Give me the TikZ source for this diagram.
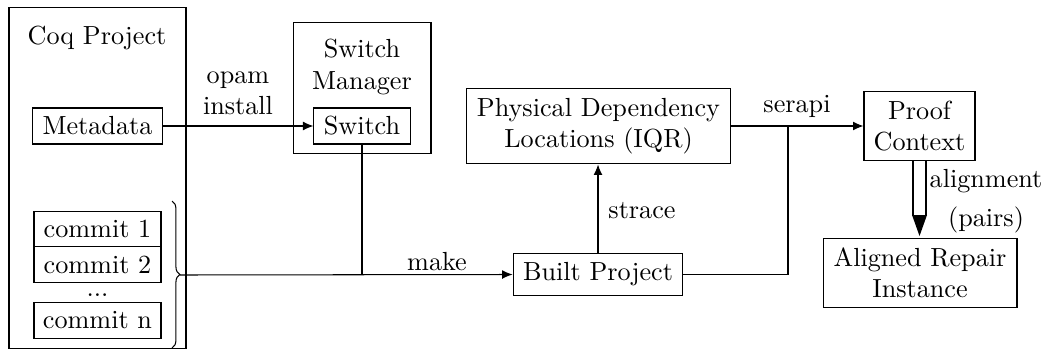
\documentclass[tikz,border=0pt]{standalone}
\usetikzlibrary{arrows.meta,decorations.pathreplacing}
\begin{document}
\begin{tikzpicture}[x=0.382pt,y=-0.382pt,
  box/.style={draw,inner sep=0pt,align=center},
  lbl/.style={inner sep=0pt,align=center},
  arr/.style={-{Latex[length=4pt,width=3.4pt]}}]
\useasboundingbox (0,0) rectangle (1047,349);
% Coq project container
\node[box,minimum width=67.6pt,minimum height=129.9pt] (coq) at (97.5,178) {};
\node[lbl] (coqt) at (97,38) {Coq Project};
\node[box,minimum width=49.3pt,minimum height=13.75pt] (meta) at (97.5,126) {Metadata};
\node[box,minimum width=48.5pt,minimum height=13.6pt] (c1) at (97.5,229) {commit 1};
\node[box,minimum width=48.5pt,minimum height=13.4pt] (c2) at (97.5,264.5) {commit 2};
\node[lbl,anchor=base] (dots) at (97.5,296) {...};
\node[box,minimum width=48.5pt,minimum height=13.4pt] (cn) at (97.5,320.5) {commit n};
\coordinate (bt) at (172,201);
\coordinate (bb) at (172,348);
\draw[decorate,decoration={brace,amplitude=3pt}] (bt) -- (bb);
\coordinate (btip) at (180,275);
% switch manager
\node[box,minimum width=52.7pt,minimum height=50.4pt] (sm) at (362,88) {};
\node[lbl] (smt) at (362,67) {Switch\\Manager};
\node[box,minimum width=36.7pt,minimum height=13.75pt] (sw) at (362,126) {Switch};
% physical / built
\node[box,minimum width=101.2pt,minimum height=29pt] (phys) at (598.5,126) {Physical Dependency\\Locations (IQR)};
\node[box,minimum width=64.9pt,minimum height=15.7pt] (bp) at (598,274.5) {Built Project};
\node[box,minimum width=42.4pt,minimum height=26.7pt] (pc) at (919.5,126) {Proof\\Context};
\node[box,minimum width=74.1pt,minimum height=26.7pt] (ar) at (920,273) {Aligned Repair\\Instance};
% connectors
\draw[arr] (meta.east) -- (sw.west);
\node[lbl] (opam) at (238,93) {opam\\install};
\draw[arr] (btip) -- (bp.west);
\coordinate (j1) at (sw.south |- bp.west);
\draw (sw.south) -- (j1);
\node[lbl] (make) at (437,262) {make};
\draw[arr] (bp.north) -- (bp.north |- phys.south);
\node[lbl] (strace) at (642,211) {strace};
\coordinate (j2) at (788,126);
\draw[arr] (phys.east) -- (pc.west);
\draw (bp.east) -| (j2);
\node[lbl] (serapi) at (797,106) {serapi};
\coordinate (dend) at (919.5,216);
\draw[double,line width=0.8pt,double distance=3.9pt] (pc.south) -- (dend);
\fill (912,215) -- (927,215) -- (919.5,236) -- cycle;
\node[lbl] (align) at (986,201) {alignment\\[3pt](pairs)};
\end{tikzpicture}
\end{document}
